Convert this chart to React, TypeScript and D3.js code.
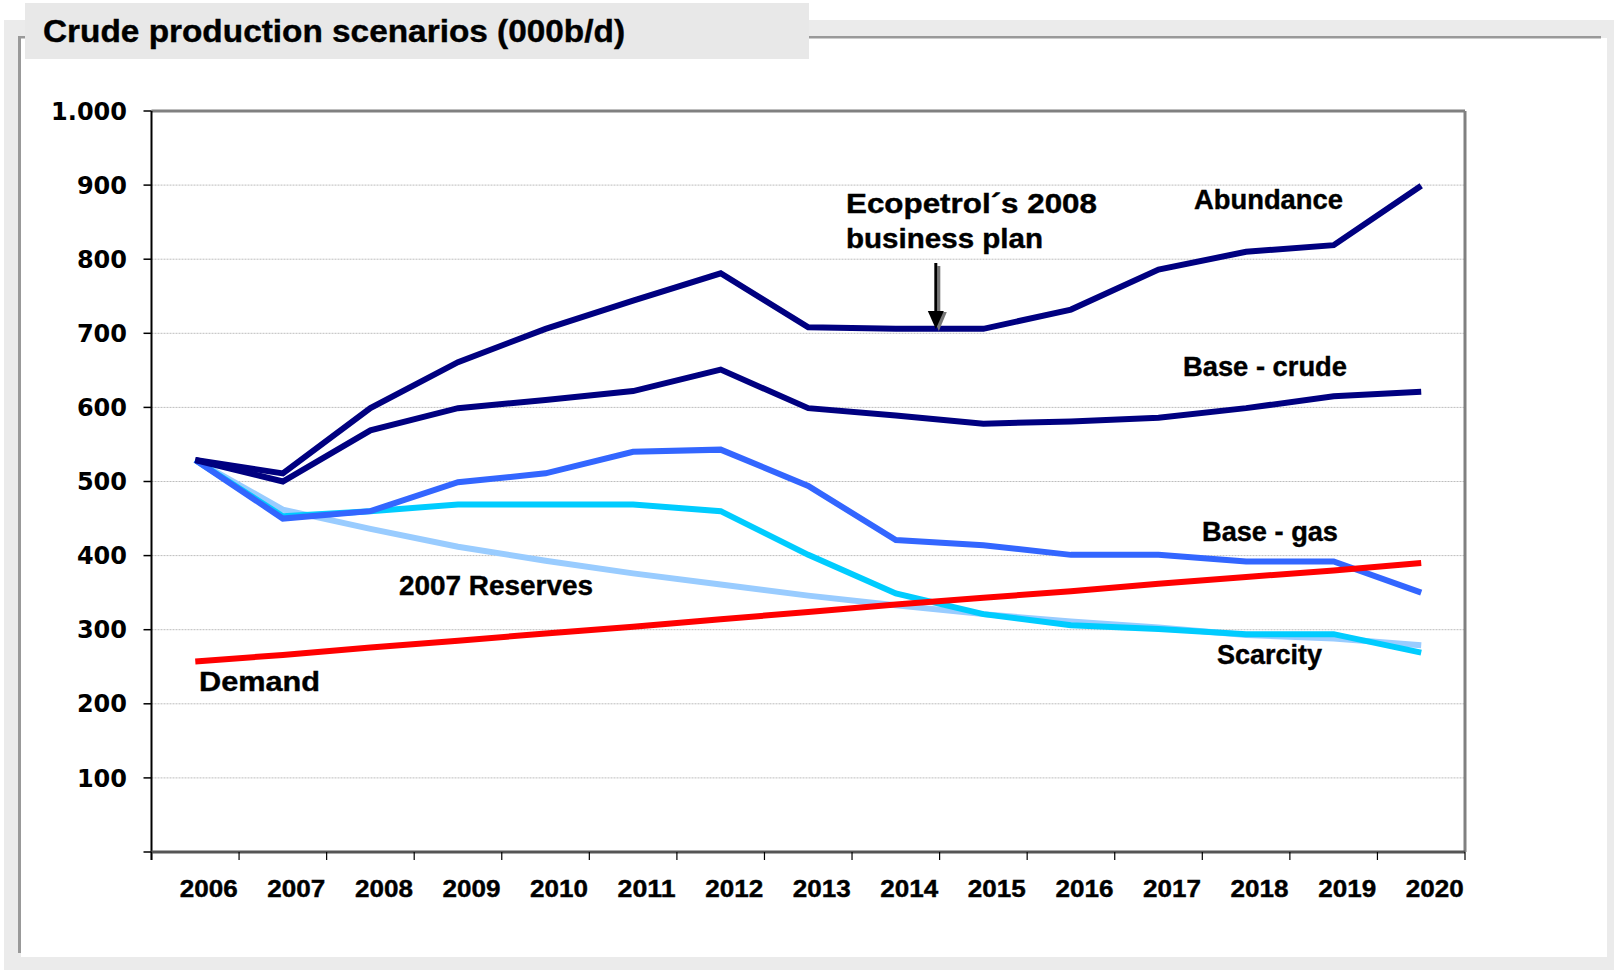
import React from "react";
import * as d3 from "d3";

const years = ["2006","2007","2008","2009","2010","2011","2012","2013","2014","2015","2016","2017","2018","2019","2020"];
const abundance = [529, 511, 599, 661, 706, 744, 781, 708, 706, 706, 732, 786, 810, 819, 899];
const baseCrude = [529, 500, 569, 599, 610, 622, 651, 599, 589, 578, 581, 586, 599, 615, 621];
const baseGas = [529, 450, 460, 499, 511, 540, 543, 494, 421, 414, 401, 401, 392, 392, 350];
const scarcity = [529, 453, 460, 469, 469, 469, 460, 401, 349, 321, 306, 301, 294, 294, 269];
const reserves2007 = [529, 462, 436, 412, 393, 376, 361, 346, 333, 321, 311, 303, 293, 288, 279];
const demand = [257, 266, 276, 285, 295, 304, 314, 324, 334, 343, 352, 362, 371, 380, 390];
const yTicks = [0, 100, 200, 300, 400, 500, 600, 700, 800, 900, 1000];

const series = [
  { name: "2007 Reserves", values: reserves2007, color: "#99ccff" },
  { name: "Scarcity", values: scarcity, color: "#00ccff" },
  { name: "Base - gas", values: baseGas, color: "#3366ff" },
  { name: "Base - crude", values: baseCrude, color: "#000080" },
  { name: "Abundance", values: abundance, color: "#000080" },
  { name: "Demand", values: demand, color: "#ff0000" },
];

const W = 1614, H = 970;
const L = 151.5, R = 1465, T = 111, B = 852;
const narrow = "'Liberation Sans', Arial, sans-serif";

export default function App() {
  const x = d3.scaleBand().domain(years).range([L, R]).padding(0);
  const y = d3.scaleLinear().domain([0, 1000]).range([B, T]);
  const cx = (yr: string) => (x(yr) as number) + x.bandwidth() / 2;
  const line = d3.line<number>().x((_, i) => cx(years[i])).y((v) => y(v));
  const fmt = (v: number) => (v === 1000 ? "1.000" : v === 0 ? "" : String(v));
  const boundaries = years.map((yr) => x(yr) as number).concat([R]);
  const arrowX = cx("2014") + 40;

  const labels = [
    { t: "Abundance", x: 1194, y: 209, w: 149 },
    { t: "Ecopetrol\u00b4s 2008", x: 846, y: 213, w: 251 },
    { t: "business plan", x: 846, y: 248, w: 197 },
    { t: "Base - crude", x: 1183, y: 376, w: 164 },
    { t: "Base - gas", x: 1202, y: 541, w: 136 },
    { t: "Scarcity", x: 1217, y: 664, w: 105 },
    { t: "2007 Reserves", x: 399, y: 595, w: 194 },
    { t: "Demand", x: 199, y: 691, w: 121 },
  ];

  return (
    <svg width={W} height={H} style={{ position: "fixed", left: 0, top: 0, background: "#fff" }}>
      {/* frame */}
      <rect x={4} y={20} width={W - 4} height={H - 20} fill="#ebebeb" />
      <rect x={21} y={38} width={1586} height={919} fill="#ffffff" />
      <rect x={18} y={36} width={1583} height={2.5} fill="#999" />
      <rect x={18} y={36} width={3} height={917} fill="#999" />
      <rect x={25} y={3} width={784} height={56} fill="#e8e8e8" />
      <text x={43} y={42} fontFamily={narrow} fontWeight="bold" fontSize={31} textLength={582} lengthAdjust="spacingAndGlyphs" fill="#000" stroke="#000" strokeWidth={0.4}>
        Crude production scenarios (000b/d)
      </text>

      {/* gridlines */}
      {yTicks.filter((v) => v > 0 && v < 1000).map((v) => (
        <line key={v} x1={L} x2={R} y1={y(v)} y2={y(v)} stroke="#bdbdbd" strokeWidth={1} strokeDasharray="2,1" />
      ))}
      {/* plot border top/right */}
      <line x1={L} x2={R} y1={T} y2={T} stroke="#808080" strokeWidth={3} />
      <line x1={R} x2={R} y1={T} y2={B} stroke="#808080" strokeWidth={3} />

      {/* y axis */}
      <line x1={L} x2={L} y1={T} y2={B + 8} stroke="#000" strokeWidth={2} />
      {yTicks.map((v) => (
        <g key={v}>
          <line x1={L - 8} x2={L} y1={y(v)} y2={y(v)} stroke="#000" strokeWidth={1.5} />
          <text x={127} y={y(v)} dy="0.36em" textAnchor="end" fontFamily="'DejaVu Sans', Verdana, sans-serif" fontWeight="bold" fontSize={24} fill="#000">
            {fmt(v)}
          </text>
        </g>
      ))}

      {/* x axis */}
      <line x1={L} x2={R} y1={B} y2={B} stroke="#555" strokeWidth={3} />
      {boundaries.map((bx, i) => (
        <line key={i} x1={bx} x2={bx} y1={B} y2={B + 8} stroke="#000" strokeWidth={1.2} />
      ))}
      {years.map((yr) => (
        <text key={yr} x={cx(yr) + 13.5} y={897} textAnchor="middle" fontFamily={narrow} fontWeight="bold" fontSize={24} textLength={58} lengthAdjust="spacingAndGlyphs" fill="#000" stroke="#000" strokeWidth={0.4}>
          {yr}
        </text>
      ))}

      {/* series */}
      {series.map((s) => (
        <path key={s.name} d={line(s.values) || ""} fill="none" stroke={s.color} strokeWidth={6} strokeLinejoin="miter" />
      ))}

      {/* arrow */}
      <g>
        <line x1={arrowX + 3} x2={arrowX + 3} y1={266} y2={316} stroke="#777" strokeWidth={3} />
        <path d={`M${arrowX - 5},312 L${arrowX + 11},312 L${arrowX + 3},331 Z`} fill="#777" />
        <line x1={arrowX} x2={arrowX} y1={263} y2={316} stroke="#000" strokeWidth={3} />
        <path d={`M${arrowX - 8},311 L${arrowX + 8},311 L${arrowX},329 Z`} fill="#000" />
      </g>

      {/* labels */}
      {labels.map((l) => (
        <text key={l.t} x={l.x} y={l.y} fontFamily={narrow} fontWeight="bold" fontSize={27} textLength={l.w} lengthAdjust="spacingAndGlyphs" fill="#000" stroke="#000" strokeWidth={0.4}>
          {l.t}
        </text>
      ))}
    </svg>
  );
}
